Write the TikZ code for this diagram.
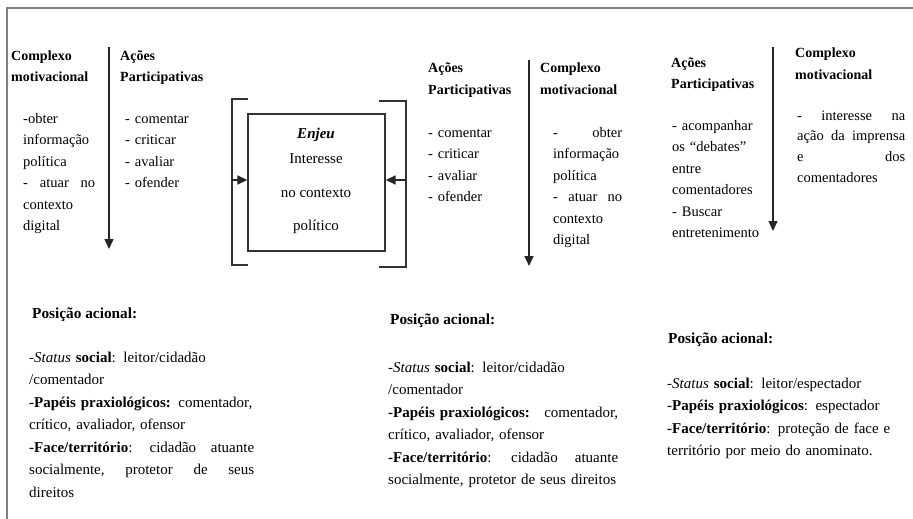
\documentclass[tikz,border=0pt]{standalone}
\usepackage{fontspec}
\setmainfont{Liberation Serif}
\usetikzlibrary{arrows.meta}
\newcommand{\jline}[1]{\makebox[\linewidth][l]{\hbox to \linewidth{#1}}}
\begin{document}
\begin{tikzpicture}[x=1pt,y=-1pt,
  txt/.style={anchor=base west, inner sep=0pt, align=left, text=black,
    font=\fontsize{14.5}{21.5}\selectfont},
  head/.style={txt, font=\fontsize{14}{21}\selectfont\bfseries},
  title/.style={txt, font=\fontsize{15.3}{21}\selectfont\bfseries},
  body/.style={txt, font=\fontsize{15}{22.5}\selectfont},
  boxtxt/.style={txt, anchor=base, font=\fontsize{15}{21}\selectfont},
  arr/.style={draw=black!85, line width=1.4pt, -{Triangle[length=10pt,width=9pt]}},
  brk/.style={draw=black!80, line width=1.3pt},
  frame/.style={draw=black!50, line width=2.2pt}
]
\useasboundingbox (0,0) rectangle (913,519);
% outer frame (top and left edges)
\draw[frame] (913,8) -- (7,8) -- (7,519);

% ---------- left column pair ----------
\node[head, text width=90] (cm1) at (11,60) {Complexo\\motivacional};
\node[txt, text width=72] (cm1b) at (23,123) {-obter\\informação\\política\\\jline{- \hfill atuar \hfill no}\\contexto\\digital};
\coordinate (a1s) at (109,47);
\coordinate (a1e) at (109,249);
\draw[arr] (a1s) -- (a1e);
\node[head, text width=100] (ap1) at (120,60) {Ações\\Participativas};
\node[txt, text width=90] (ap1b) at (125,123) {- comentar\\- criticar\\- avaliar\\- ofender};

% ---------- central enjeu box ----------
\node[draw=black!80, line width=1.3pt, minimum width=137pt, minimum height=137pt, inner sep=0pt] (enjeu) at (316.5,182.5) {};
\node[boxtxt, font=\fontsize{15}{21}\selectfont\bfseries\itshape] (ej1) at (316,138) {Enjeu};
\node[boxtxt] (ej2) at (316,163) {Interesse};
\node[boxtxt] (ej3) at (316,197) {no contexto};
\node[boxtxt] (ej4) at (316,230) {político};
% brackets
\draw[brk] (248,99) -- (232,99) -- (232,265) -- (248,265);
\draw[brk] (379,101) -- (406,101) -- (406,267) -- (379,267);
\coordinate (lb) at (232,180);
\coordinate (rb) at (406,180);
\draw[arr] (lb) -- (lb -| enjeu.west);
\draw[arr] (rb) -- (rb -| enjeu.east);

% ---------- middle column pair ----------
\node[head, text width=100] (ap2) at (428,73) {Ações\\Participativas};
\node[txt, text width=90] (ap2b) at (428,137) {- comentar\\- criticar\\- avaliar\\- ofender};
\coordinate (a2s) at (529,60);
\coordinate (a2e) at (529,266);
\draw[arr] (a2s) -- (a2e);
\node[head, text width=100] (cm2) at (540,73) {Complexo\\motivacional};
\node[txt, text width=69] (cm2b) at (553,137) {\jline{- \hfill obter}\\informação\\política\\\jline{- \hfill atuar \hfill no}\\contexto\\digital};

% ---------- right column pair ----------
\node[head, text width=100] (ap3) at (671,67) {Ações\\Participativas};
\node[txt, text width=100] (ap3b) at (672,130) {- acompanhar\\os “debates”\\entre\\comentadores\\- Buscar\\entretenimento};
\coordinate (a3s) at (773,47);
\coordinate (a3e) at (773,231);
\draw[arr] (a3s) -- (a3e);
\node[head, text width=100] (cm3) at (795,58) {Complexo\\motivacional};
\node[txt, text width=108, font=\fontsize{14.5}{20.8}\selectfont] (cm3b) at (797,120) {\jline{- \hfill interesse \hfill na}\\\jline{ação \hfill da \hfill imprensa}\\\jline{e \hfill dos}\\comentadores};

% ---------- bottom: posição acional ----------
\node[title] (pa1) at (32,318) {Posição acional:};
\node[body, text width=225] (pa1b) at (29,362) {-\textit{Status} \textbf{social}: leitor/cidadão\\/comentador\\\textbf{-Papéis praxiológicos:} comentador,\\crítico, avaliador, ofensor\\\jline{\textbf{-Face/território}: \hfill cidadão \hfill atuante}\\\jline{socialmente, \hfill protetor \hfill de \hfill seus}\\direitos};

\node[title] (pa2) at (390,324) {Posição acional:};
\node[body, text width=230] (pa2b) at (388,372) {-\textit{Status} \textbf{social}: leitor/cidadão\\/comentador\\\jline{\textbf{-Papéis praxiológicos:} \hfill comentador,}\\crítico, avaliador, ofensor\\\jline{\textbf{-Face/território}: \hfill cidadão \hfill atuante}\\socialmente, protetor de seus direitos};

\node[title] (pa3) at (668,343) {Posição acional:};
\node[body, text width=226] (pa3b) at (667,388) {-\textit{Status} \textbf{social}: leitor/espectador\\\textbf{-Papéis praxiológicos}: espectador\\\textbf{-Face/território}: proteção de face e\\território por meio do anominato.};
\end{tikzpicture}
\end{document}
